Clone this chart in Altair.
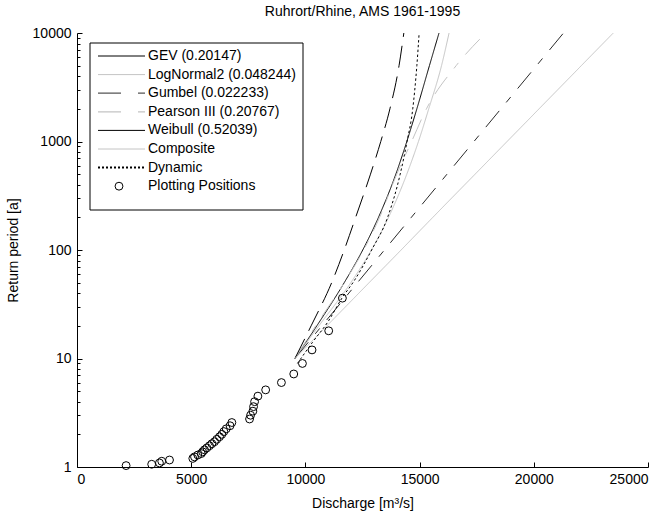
import altair as alt
import pandas as pd

# ---------------- data ----------------
# Plotting positions (annual maxima, sorted) and their return periods [a]
pp_discharge = [2150, 3270, 3610, 3710, 4050, 5070, 5145, 5290, 5440, 5500,
                5580, 5685, 5800, 5905, 6020, 6120, 6240, 6340, 6430, 6535,
                6700, 6780, 7555, 7600, 7700, 7730, 7775, 7920, 8260, 8950,
                9490, 9870, 10290, 11020, 11620]
pp_return = [1.03, 1.06, 1.09, 1.13, 1.16, 1.2, 1.24, 1.29, 1.33, 1.38,
             1.44, 1.5, 1.57, 1.64, 1.71, 1.8, 1.9, 2.0, 2.12, 2.25,
             2.4, 2.57, 2.77, 3.0, 3.27, 3.6, 4.0, 4.5, 5.14, 6.0,
             7.2, 9.0, 12.0, 18.0, 36.0]

# Fitted distributions: return period grid and discharge
T_grid = [10, 20, 50, 100, 200, 500, 1000, 2000, 5000, 10000]
gev_q = [9540, 10500, 11700, 12510, 13200, 13960, 14440, 14880, 15430, 15850]
lognormal_q = [9540, 10590, 11990, 12890, 13640, 14440, 14950, 15400, 15960, 16290]
gumbel_q = [9540, 10720, 12280, 13460, 14640, 16200, 17380, 18560, 20120, 21300]
pearson_q = [9540, 10450, 11700, 12550, 13250, 14000, 14650, 15300, 16600, 17900]
weibull_q = [9540, 10250, 11150, 11700, 12200, 12850, 13300, 13700, 14100, 14310]
composite_q = [9540, 10940, 12790, 14190, 15580, 17430, 18830, 20230, 22080, 23480]
dynamic_T = [9, 14, 22, 36, 53, 100, 200, 500, 1000, 2000, 5000, 10000]
dynamic_q = [9650, 10300, 11000, 11600, 12160, 12900, 13600, 14150, 14450, 14700, 14880, 14980]

series_names = ["GEV", "LogNormal2", "Gumbel", "Pearson III", "Weibull", "Composite", "Dynamic"]
legend_labels = ["GEV (0.20147)", "LogNormal2 (0.048244)", "Gumbel (0.022233)",
                 "Pearson III (0.20767)", "Weibull (0.52039)", "Composite", "Dynamic",
                 "Plotting Positions"]

rows = []
for name, ts, qs in [("GEV", T_grid, gev_q), ("LogNormal2", T_grid, lognormal_q),
                     ("Gumbel", T_grid, gumbel_q), ("Pearson III", T_grid, pearson_q),
                     ("Weibull", T_grid, weibull_q), ("Composite", T_grid, composite_q),
                     ("Dynamic", dynamic_T, dynamic_q)]:
    for t, q in zip(ts, qs):
        rows.append({"series": name, "T": t, "Q": q})
curves = pd.DataFrame(rows)
pp = pd.DataFrame({"Q": pp_discharge, "T": pp_return})

# ---------------- styles ----------------
FONT = "Liberation Sans"
W, H = 571, 434
LIGHT = "#c4c4c4"
line_colors = ["#000000", LIGHT, "#2a2a2a", LIGHT, "#000000", LIGHT, "#000000"]
line_dashes = [[1, 0], [1, 0], [21, 11, 7, 11], [21, 11, 7, 11], [22, 9], [1, 0], [2.4, 2.4]]
line_widths = [1, 1, 1, 1, 1, 1, 2.4]

xscale = alt.Scale(domain=[0, 25000], nice=False, zero=False)
yscale = alt.Scale(type="log", domain=[1, 10000], nice=False)

x_ticks = [0, 5000, 10000, 15000, 20000, 25000]
y_major = [1, 10, 100, 1000, 10000]
y_all = [m * d for d in [1, 10, 100, 1000] for m in range(1, 10)] + [10000]

lines = alt.Chart(curves).mark_line(clip=True, strokeCap="butt", interpolate="monotone").encode(
    x=alt.X("Q:Q", scale=xscale,
            axis=alt.Axis(orient="bottom", values=x_ticks, format="d", ticks=False, tickSize=0,
                          labelPadding=5, grid=False, domainColor="black",
                          title="Discharge [m³/s]", titlePadding=10)),
    y=alt.Y("T:Q", scale=yscale,
            axis=alt.Axis(orient="left", values=y_major, format="d", ticks=False, tickSize=0,
                          labelPadding=6, grid=False, domainColor="black",
                          title="Return period [a]", titlePadding=12)),
    color=alt.Color("series:N", scale=alt.Scale(domain=series_names, range=line_colors), legend=None),
    strokeDash=alt.StrokeDash("series:N", scale=alt.Scale(domain=series_names, range=line_dashes), legend=None),
    strokeWidth=alt.StrokeWidth("series:N", scale=alt.Scale(domain=series_names, range=line_widths), legend=None),
    order=alt.Order("T:Q"),
)

points = alt.Chart(pp).mark_point(shape="circle", filled=False, color="black",
                                  size=62, strokeWidth=1, opacity=1).encode(
    x=alt.X("Q:Q", scale=xscale,
            axis=alt.Axis(orient="top", offset=-H, values=x_ticks, labels=False, domain=False,
                          grid=False, ticks=True, tickSize=5, tickColor="black", title=None)),
    y=alt.Y("T:Q", scale=yscale,
            axis=alt.Axis(orient="right", offset=-W, values=y_all, labels=False, domain=False,
                          grid=False, ticks=True, tickColor="black", title=None,
                          tickSize={"condition": {"test": "indexof([1,10,100,1000,10000], datum.value) >= 0",
                                                  "value": 5}, "value": 3})),
)

# ---------------- legend (drawn inside the axes, like the original) ----------------
LX0, LX1, LY0, LY1 = 13, 226, 10, 177
row_y = [23 + i * 18.6 for i in range(8)]
legend_layers = [
    alt.Chart(pd.DataFrame({"a": [0]})).mark_rect(fill="white", stroke="black", strokeWidth=1).encode(
        x=alt.value(LX0), x2=alt.value(LX1), y=alt.value(LY0), y2=alt.value(LY1))
]
sample_styles = [("#000000", [1, 0], 1), (LIGHT, [1, 0], 1), ("#555555", [23, 17], 1.3),
                 (LIGHT, [23, 17], 1.3), ("#000000", [1, 0], 1), (LIGHT, [1, 0], 1),
                 ("#000000", [2, 2], 2)]
for i, lab in enumerate(legend_labels):
    df = pd.DataFrame({"label": [lab]})
    if i < 7:
        c, d, w = sample_styles[i]
        legend_layers.append(
            alt.Chart(df).mark_rule(color=c, strokeDash=d, strokeWidth=w, strokeCap="butt").encode(
                x=alt.value(21), x2=alt.value(68), y=alt.value(row_y[i])))
    else:
        legend_layers.append(
            alt.Chart(df).mark_point(shape="circle", filled=False, color="black", size=62,
                                     strokeWidth=1, opacity=1).encode(
                x=alt.value(42), y=alt.value(row_y[i])))
    legend_layers.append(
        alt.Chart(df).mark_text(align="left", baseline="middle", font=FONT, fontSize=14,
                                color="black").encode(
            x=alt.value(71), y=alt.value(row_y[i]), text="label:N"))

chart = alt.layer(lines, points, *legend_layers).resolve_axis(
    x="independent", y="independent"
).properties(
    width=W, height=H,
    title=alt.TitleParams("Ruhrort/Rhine, AMS 1961-1995", font=FONT, fontSize=14,
                          fontWeight="normal", anchor="middle", color="black", offset=7),
    autosize=alt.AutoSizeParams(type="none"),
    padding={"left": 77, "top": 33, "right": 24, "bottom": 48},
    background="white",
).configure_view(stroke=None).configure_axis(
    labelFont=FONT, titleFont=FONT, labelFontSize=14, titleFontSize=14,
    labelColor="black", titleColor="black", titleFontWeight="normal", domainWidth=1,
)

chart.save("out.html", embed_options={"renderer": "svg", "actions": False})
